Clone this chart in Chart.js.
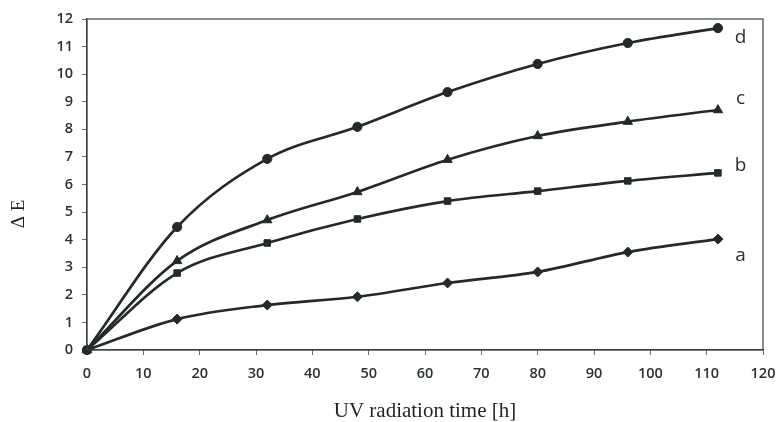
<!DOCTYPE html>
<html>
<head>
<meta charset="utf-8">
<script src="https://cdn.jsdelivr.net/npm/chart.js@4.4.0/dist/chart.umd.min.js"></script>
<style>
html,body{margin:0;padding:0;background:#fff;}
#wrap{width:778px;height:422px;position:relative;}
</style>
</head>
<body>
<div id="wrap"><canvas id="c" width="778" height="422"></canvas></div>
<script>
const times = [0, 16, 32, 48, 64, 80, 96, 112];
const seriesA = [0, 1.12, 1.63, 1.93, 2.43, 2.83, 3.55, 4.02];
const seriesB = [0, 2.79, 3.88, 4.75, 5.4, 5.76, 6.13, 6.42];
const seriesC = [0, 3.23, 4.71, 5.73, 6.9, 7.76, 8.28, 8.7];
const seriesD = [0, 4.46, 6.93, 8.09, 9.35, 10.37, 11.13, 11.67];
const seriesNames = ['a', 'b', 'c', 'd'];
const labelX = [116, 116, 116, 116];
const labelY = [3.44, 6.67, 9.1, 11.31];
const xTicks = [0, 10, 20, 30, 40, 50, 60, 70, 80, 90, 100, 110, 120];
const yTicks = [0, 1, 2, 3, 4, 5, 6, 7, 8, 9, 10, 11, 12];
const xTitle = 'UV radiation time [h]';
const yTitle = 'Δ E';

const ink = '#222b28';
const toPts = arr => arr.map((v, i) => ({x: times[i], y: v}));
const mk = (label, data, style, r) => ({
  label, data: toPts(data), borderColor: ink, backgroundColor: ink,
  borderWidth: 2.7, pointStyle: style, pointRadius: r, pointHoverRadius: r,
  pointBorderWidth: 1, clip: false,
  cubicInterpolationMode: 'monotone', fill: false, showLine: true
});

const boxPlugin = {
  id: 'box',
  afterDatasetsDraw(chart) {
    const {ctx, chartArea: a, scales} = chart;
    ctx.save();
    ctx.strokeStyle = '#3a4040';
    ctx.lineWidth = 1.2;
    ctx.strokeRect(a.left, a.top, a.right - a.left, a.bottom - a.top);
    ctx.fillStyle = '#2a302e';
    ctx.font = '19px "Open Sans", "DejaVu Sans", sans-serif';
    ctx.textAlign = 'center';
    ctx.textBaseline = 'middle';
    seriesNames.forEach((n, i) => {
      ctx.fillText(n, scales.x.getPixelForValue(labelX[i]), scales.y.getPixelForValue(labelY[i]));
    });
    // axis titles
    ctx.fillStyle = '#1e2422';
    ctx.font = '21px "Liberation Serif", serif';
    ctx.fillText(xTitle, (a.left + a.right) / 2, 411);
    ctx.translate(19, 214);
    ctx.rotate(-Math.PI / 2);
    ctx.font = '19px "Liberation Serif", serif';
    ctx.fillText(yTitle, 0, 0);
    ctx.restore();
  }
};

const tickFont = {family: '"Open Sans", sans-serif', size: 14.5, weight: '600'};

new Chart(document.getElementById('c'), {
  type: 'scatter',
  data: {
    datasets: [
      mk('a', seriesA, 'rectRot', 5),
      mk('b', seriesB, 'rect', 4.6),
      mk('c', seriesC, 'triangle', 5.4),
      mk('d', seriesD, 'circle', 4.6)
    ]
  },
  options: {
    responsive: false,
    animation: false,
    devicePixelRatio: 1,
    layout: {padding: {top: 19, right: 15, left: 0, bottom: 0}},
    plugins: {legend: {display: false}, tooltip: {enabled: false}},
    scales: {
      x: {
        type: 'linear', min: 0, max: 120,
        afterBuildTicks: s => { s.ticks = xTicks.map(v => ({value: v})); },
        afterFit: s => { s.height = 72; s.paddingRight = 0; s.paddingLeft = 0; },
        grid: {display: true, drawOnChartArea: false, drawTicks: true, tickLength: 5, color: '#6a7070'},
        border: {display: true, color: '#3a4040', width: 1.2},
        ticks: {color: '#2a3230', font: tickFont, padding: 10, maxRotation: 0},
        title: {display: false}
      },
      y: {
        type: 'linear', min: 0, max: 12,
        afterBuildTicks: s => { s.ticks = yTicks.map(v => ({value: v})); },
        afterFit: s => { s.width = 87; s.paddingTop = 0; s.paddingBottom = 0; },
        grid: {display: true, drawOnChartArea: false, drawTicks: true, tickLength: 5, color: '#6a7070'},
        border: {display: true, color: '#3a4040', width: 1.2},
        ticks: {color: '#2a3230', font: tickFont, padding: 9},
        title: {display: false}
      }
    }
  },
  plugins: [boxPlugin]
});
</script>
</body>
</html>
